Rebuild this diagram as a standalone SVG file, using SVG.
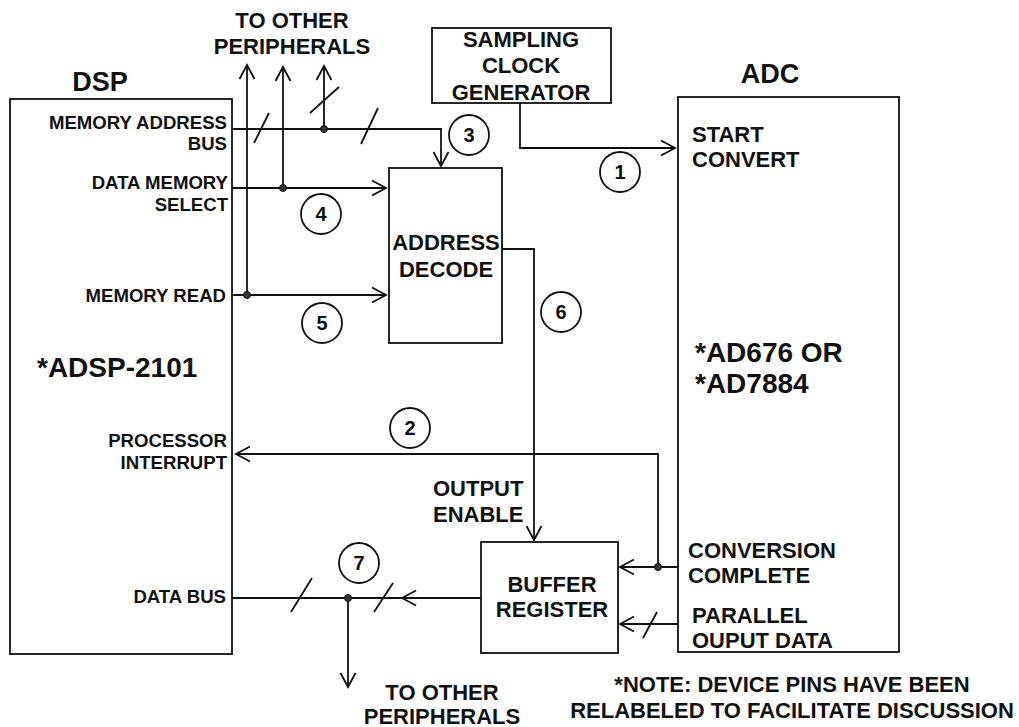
<svg xmlns="http://www.w3.org/2000/svg" width="1019" height="727" viewBox="0 0 1019 727">
<style>
.box{fill:none;stroke:#111;stroke-width:1.8}
.w{fill:none;stroke:#111;stroke-width:1.8}
.t{font-family:"Liberation Sans",Arial,Helvetica,sans-serif;font-weight:bold;fill:#111}
.s{font-size:18.6px}
.m{font-size:22px}
.d{font-size:20px}
.l{font-size:28px}
.c{text-anchor:middle}
.e{text-anchor:end}
.dot{fill:#333;stroke:#111;stroke-width:1}
.num{fill:#fff;stroke:#111;stroke-width:1.8}
</style>
<defs>
<marker id="arr" viewBox="-16 -10 18 20" refX="0" refY="0" markerWidth="18" markerHeight="20" markerUnits="userSpaceOnUse" orient="auto">
<path d="M-14,-7.5 L0,0 L-14,7.5" fill="none" stroke="#111" stroke-width="1.8"/>
</marker>
</defs>
<rect width="1019" height="727" fill="#fff"/>

<g id="dsp">
<rect class="box" x="10" y="99" width="222" height="555"/>
<text class="t c" x="100" y="91" font-size="27">DSP</text>
<text class="t s e" x="227" y="129">MEMORY ADDRESS</text>
<text class="t s e" x="227" y="150">BUS</text>
<text class="t s e" x="228" y="189">DATA MEMORY</text>
<text class="t s e" x="228" y="211">SELECT</text>
<text class="t s e" x="226" y="302">MEMORY READ</text>
<text class="t l" x="37" y="377">*ADSP-2101</text>
<text class="t s e" x="227" y="447">PROCESSOR</text>
<text class="t s e" x="227" y="469">INTERRUPT</text>
<text class="t s e" x="226" y="603">DATA BUS</text>
</g>

<g id="clock">
<rect class="box" x="432" y="28" width="179" height="75"/>
<text class="t m c" x="521" y="47">SAMPLING</text>
<text class="t m c" x="521" y="73">CLOCK</text>
<text class="t m c" x="521" y="100">GENERATOR</text>
</g>

<g id="adc">
<rect class="box" x="678" y="97" width="221" height="555"/>
<text class="t c" x="770" y="83" font-size="27">ADC</text>
<text class="t m" x="692" y="142">START</text>
<text class="t m" x="692" y="167">CONVERT</text>
<text class="t l" x="695" y="362">*AD676 OR</text>
<text class="t l" x="695" y="393">*AD7884</text>
<text class="t m" x="688" y="558">CONVERSION</text>
<text class="t m" x="688" y="583">COMPLETE</text>
<text class="t m" x="692" y="623">PARALLEL</text>
<text class="t m" x="692" y="648">OUPUT DATA</text>
</g>

<g id="decode">
<rect class="box" x="389" y="168" width="113" height="175"/>
<text class="t m c" x="446" y="250">ADDRESS</text>
<text class="t m c" x="446" y="277">DECODE</text>
</g>

<g id="buffer">
<rect class="box" x="481" y="542" width="137" height="111"/>
<text class="t m c" x="552" y="592">BUFFER</text>
<text class="t m c" x="552" y="617">REGISTER</text>
</g>

<g id="connectors">
<path class="w" d="M247,295 V65" marker-end="url(#arr)"/>
<path class="w" d="M283,188 V67" marker-end="url(#arr)"/>
<path class="w" d="M324,129 V66" marker-end="url(#arr)"/>
<path class="w" d="M232,129 H441 V166" marker-end="url(#arr)"/>
<path class="w" d="M232,188 H386" marker-end="url(#arr)"/>
<path class="w" d="M232,295 H386" marker-end="url(#arr)"/>
<path class="w" d="M520,103 V148 H675" marker-end="url(#arr)"/>
<path class="w" d="M502,249 H534 V540" marker-end="url(#arr)"/>
<path class="w" d="M678,567 H620" marker-end="url(#arr)"/>
<path class="w" d="M658,567 V454 H236" marker-end="url(#arr)"/>
<path class="w" d="M678,624 H620" marker-end="url(#arr)"/>
<path class="w" d="M481,598 H402" marker-end="url(#arr)"/>
<path class="w" d="M402,598 H232"/>
<path class="w" d="M348,598 V687" marker-end="url(#arr)"/>
<path class="w" d="M254,143 L269,113 M361,144 L378,108 M310,113 L339,87 M643,638 L657,612 M291,612 L312,578 M374,612 L393,583"/>
<circle class="dot" cx="247" cy="295" r="3.5"/>
<circle class="dot" cx="283" cy="188" r="3.5"/>
<circle class="dot" cx="324" cy="129" r="3.5"/>
<circle class="dot" cx="658" cy="567" r="3.5"/>
<circle class="dot" cx="348" cy="598" r="3.5"/>
</g>

<g id="steps">
<circle class="num" cx="620" cy="172" r="20"/><text class="t d c" x="620" y="179">1</text>
<circle class="num" cx="410" cy="428" r="20"/><text class="t d c" x="410" y="435">2</text>
<circle class="num" cx="469" cy="135" r="20"/><text class="t d c" x="469" y="142">3</text>
<circle class="num" cx="321" cy="214" r="20"/><text class="t d c" x="321" y="221">4</text>
<circle class="num" cx="322" cy="323" r="20"/><text class="t d c" x="322" y="330">5</text>
<circle class="num" cx="561" cy="312" r="20"/><text class="t d c" x="561" y="319">6</text>
<circle class="num" cx="359" cy="563" r="20"/><text class="t d c" x="359" y="570">7</text>
</g>

<g id="notes">
<text class="t m c" x="292" y="28">TO OTHER</text>
<text class="t m c" x="292" y="54">PERIPHERALS</text>
<text class="t m c" x="442" y="700">TO OTHER</text>
<text class="t m c" x="442" y="724">PERIPHERALS</text>
<text class="t m" x="433" y="496">OUTPUT</text>
<text class="t m" x="433" y="522">ENABLE</text>
<text class="t m c" x="792" y="692">*NOTE: DEVICE PINS HAVE BEEN</text>
<text class="t m c" x="792" y="718">RELABELED TO FACILITATE DISCUSSION</text>
</g>
</svg>
